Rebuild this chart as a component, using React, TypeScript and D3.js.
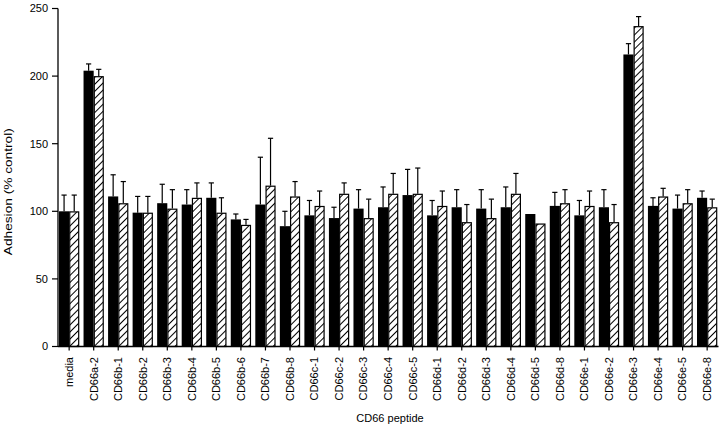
import React from "react";
import * as d3 from "d3";

const categories = [
  "media", "CD66a-2",
  "CD66b-1", "CD66b-2", "CD66b-3", "CD66b-4", "CD66b-5", "CD66b-6", "CD66b-7", "CD66b-8",
  "CD66c-1", "CD66c-2", "CD66c-3", "CD66c-4", "CD66c-5",
  "CD66d-1", "CD66d-2", "CD66d-3", "CD66d-4", "CD66d-5", "CD66d-8",
  "CD66e-1", "CD66e-2", "CD66e-3", "CD66e-4", "CD66e-5", "CD66e-8",
];

const solidValues = [100, 204, 111, 99, 106, 105, 110, 94, 105, 89, 97, 95, 102, 103, 112, 97, 103, 102, 103, 98, 104, 97, 103, 216, 104, 102, 110];
const solidErrors = [12, 5, 16, 12, 14, 11, 11, 4, 35, 11, 11, 8, 14, 15, 19, 11, 13, 14, 15, 0, 10, 11, 13, 8, 6, 10, 5];
const hatchedValues = [100, 200, 106, 99, 102, 110, 99, 90, 119, 111, 104, 113, 95, 113, 113, 104, 92, 95, 113, 91, 106, 104, 92, 237, 111, 106, 103];
const hatchedErrors = [12, 5, 16, 12, 14, 11, 11, 4, 35, 11, 11, 8, 14, 15, 19, 11, 13, 14, 15, 0, 10, 11, 13, 7, 6, 10, 6];

const yTicks = [0, 50, 100, 150, 200, 250];
const series = ["solid", "hatched"];

const W = 720;
const H = 426;
const axisX = 58;
const axisY = 346.5;
const FONT = "'Liberation Sans', Arial, sans-serif";

export default function App() {
  const x = d3.scaleBand<string>().domain(categories).range([59, 717.3]).paddingInner(0.173).paddingOuter(0);
  const xs = d3.scaleBand<string>().domain(series).range([0, x.bandwidth()]).padding(0);
  const y = d3.scaleLinear().domain([0, 250]).range([axisY, 8.5]);

  const data = categories.map((c, i) => ({
    c,
    bars: [
      { s: "solid", v: solidValues[i], e: solidErrors[i] },
      { s: "hatched", v: hatchedValues[i], e: hatchedErrors[i] },
    ],
  }));

  return (
    <svg width={W} height={H} style={{ position: "absolute", left: 0, top: 0, background: "#fff" }} fontFamily={FONT}>
      <defs>
        <pattern id="hatch" patternUnits="userSpaceOnUse" width={5} height={5} patternTransform="rotate(45)">
          <rect width={5} height={5} fill="#fff" />
          <line x1={2.5} y1={0} x2={2.5} y2={5} stroke="#000" strokeWidth={1} />
        </pattern>
      </defs>
      <rect width={W} height={H} fill="#fff" />

      {data.map((g) => (
        <g key={g.c} transform={`translate(${x(g.c)},0)`}>
          {g.bars.map((b) => {
            const bx = xs(b.s)!;
            const bw = xs.bandwidth();
            const top = y(b.v);
            const cx = bx + bw / 2;
            return (
              <g key={b.s}>
                {b.e > 0 && (
                  <g stroke="#000" strokeWidth={1.2}>
                    <line x1={cx} x2={cx} y1={top} y2={y(b.v + b.e)} />
                    <line x1={cx - 2.6} x2={cx + 2.6} y1={y(b.v + b.e)} y2={y(b.v + b.e)} />
                  </g>
                )}
                {b.s === "solid" ? (
                  <rect x={bx} y={top} width={bw} height={axisY - top} fill="#000" />
                ) : (
                  <rect x={bx + 0.6} y={top + 0.6} width={bw - 1.2} height={axisY - top - 0.6} fill="url(#hatch)" stroke="#000" strokeWidth={1.2} />
                )}
              </g>
            );
          })}
        </g>
      ))}

      {/* y axis */}
      <line x1={axisX} x2={axisX} y1={y(250)} y2={axisY} stroke="#000" strokeWidth={1.3} />
      {yTicks.map((t) => (
        <g key={t}>
          <line x1={axisX - 6} x2={axisX} y1={y(t)} y2={y(t)} stroke="#000" strokeWidth={1.2} />
          <text x={48} y={y(t)} dy="0.35em" textAnchor="end" fontSize={11} fill="#000">{t}</text>
        </g>
      ))}

      {/* x axis */}
      <line x1={axisX} x2={718.5} y1={axisY} y2={axisY} stroke="#000" strokeWidth={1.3} />
      {categories.map((c) => {
        const cx = x(c)! + x.bandwidth() / 2;
        return (
          <g key={c}>
            <line x1={cx} x2={cx} y1={axisY} y2={axisY + 4} stroke="#000" strokeWidth={1.2} />
            <text transform={`translate(${cx},357) rotate(-90)`} dy="0.35em" textAnchor="end" fontSize={11} fill="#000">{c}</text>
          </g>
        );
      })}

      <text x={390} y={422} textAnchor="middle" fontSize={11} fill="#000">CD66 peptide</text>
      <text transform="translate(11.5,191.7) rotate(-90)" textAnchor="middle" fontSize={11} textLength={127} lengthAdjust="spacingAndGlyphs" fill="#000">Adhesion (% control)</text>
    </svg>
  );
}
